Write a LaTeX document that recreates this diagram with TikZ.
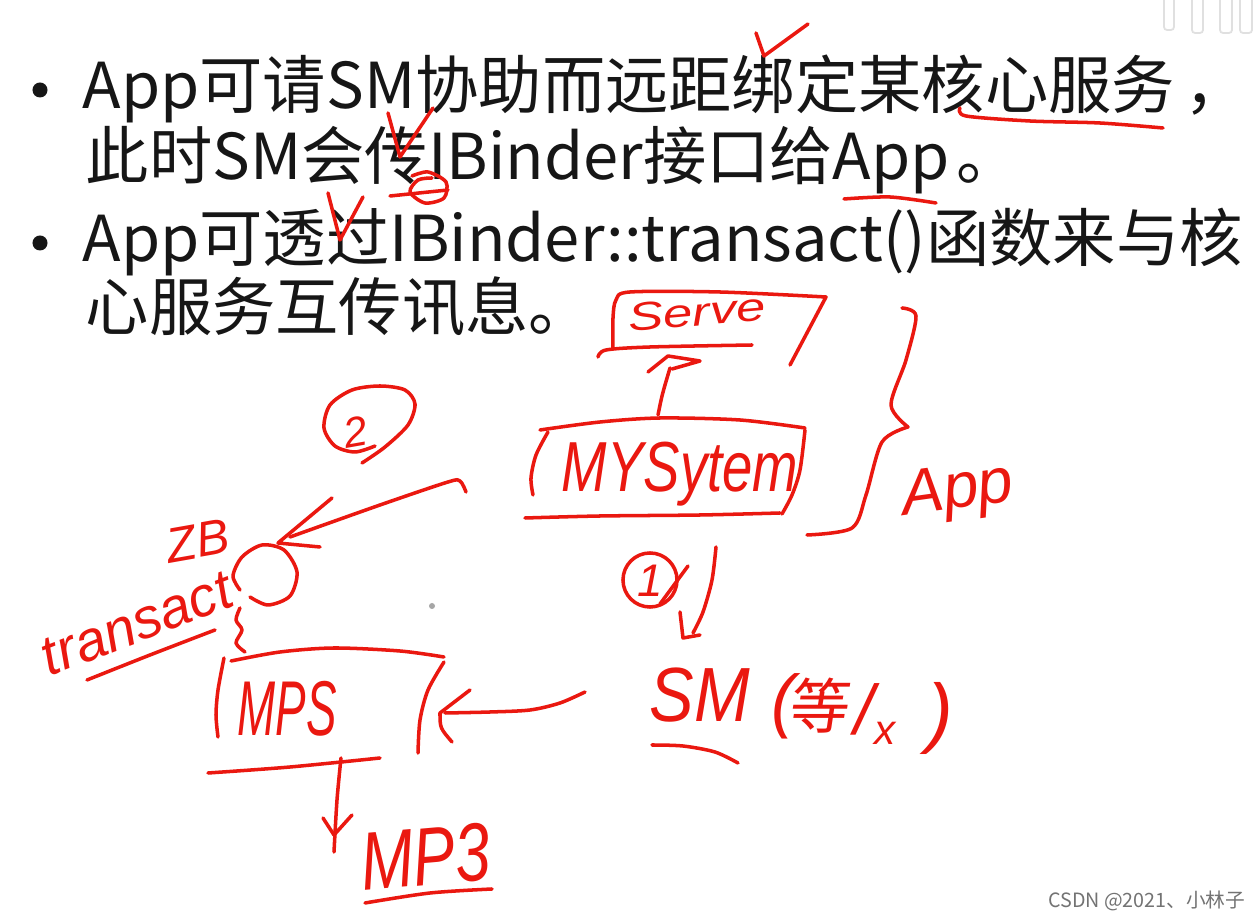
\documentclass[tikz,border=0pt]{standalone}
\usepackage{fontspec}
\setmainfont{Noto Sans CJK SC}
\newfontfamily\hand{Liberation Sans}
\newfontfamily\handcjk[FakeSlant=0.15]{Noto Sans CJK SC}
\definecolor{inkred}{RGB}{234,24,16}
\definecolor{slidetext}{RGB}{22,22,22}
\begin{document}
\begin{tikzpicture}[x=0.01cm,y=-0.01cm,
  ink/.style={draw=inkred,line width=1pt,line cap=round,line join=round},
  slide/.style={anchor=base west,inner sep=0pt,text=slidetext,font=\fontsize{18}{18}\selectfont},
  hw/.style={inner sep=0pt,text=inkred,font=\hand\itshape\fontsize{#1}{#1}\selectfont},
  hwc/.style={inner sep=0pt,text=inkred,font=\handcjk\fontsize{#1}{#1}\selectfont},
  faint/.style={draw=black!12,line width=0.5pt,rounded corners=0.03cm}
  ]
\useasboundingbox (0,0) rectangle (1260,922);
\fill[white] (0,0) rectangle (1260,922);

% faint marks top right
\draw[faint] (1164,-5) rectangle (1174,30);
\draw[faint] (1192,-5) rectangle (1203,33);
\draw[faint] (1220,-5) rectangle (1232,33);
\draw[faint] (1240,-5) rectangle (1252,33);

% slide text
\fill[slidetext] (40,90) circle[radius=0.075cm];
\fill[slidetext] (40,243) circle[radius=0.075cm];
\node[slide] (l1) at (82,109) {App可请SM协助而远距绑定某核心服务\kern0.15em，};
\node[slide] (l2) at (85,180) {此时SM会传IBinder接口给App\kern0.1em。};
\node[slide] (l3) at (82,262) {App可透过IBinder::transact()函数来与核};
\node[slide] (l4) at (85,331) {心服务互传讯息。};

% red marks on the slide text
\draw[ink] (756,33) -- (764,56) -- (808,24);
\draw[ink] plot[smooth] coordinates {(960,108) (966,116) (1030,121) (1100,123) (1163,128)};
\draw[ink] (388,113) -- (400,157) -- (433,108);
\draw[ink] plot[smooth] coordinates {(412,176) (428,172) (446,182) (444,198) (425,203) (410,192) (418,180) (432,178)};
\draw[ink] (390,196) -- (448,190);
\draw[ink] (328,193) -- (340,240) -- (363,197);
\draw[ink] plot[smooth] coordinates {(844,199) (890,197) (936,203)};

% Serve box
\draw[ink] plot[smooth] coordinates {(613,348) (613,318) (616,300) (630,292) (720,292) (826,297)} -- (790,365);
\draw[ink] plot[smooth] coordinates {(598,357) (606,350) (650,347) (752,345)};
\node[hw=15,anchor=base,rotate=5] (serve) at (698,326) {\scalebox{1}[0.75]{Serve}};

% arrow MYSystem -> Serve
\coordinate (upS) at (658,415);
\coordinate (upE) at (670,368);
\draw[ink] (upS) .. controls (662,395) .. (upE);
\draw[ink] (648,372) -- (668,356) -- (700,361) -- (672,369);

% MYSystem box
\draw[ink] plot[smooth] coordinates {(540,430) (600,422) (660,418) (740,420) (805,428)};
\draw[ink] plot[smooth] coordinates {(805,430) (800,470) (792,495) (782,514)};
\draw[ink] plot[smooth] coordinates {(525,518) (600,516) (700,515) (780,513)};
\draw[ink] plot[smooth] coordinates {(548,432) (536,455) (531,478) (533,495)};
\node[hw=15.5,anchor=base] (mys) at (680,492) {\scalebox{1}[1.3]{MYSytem}};

% brace and App
\draw[ink] plot[smooth] coordinates {(902,308) (916,316) (906,360) (891,405) (908,427)};
\draw[ink] plot[smooth] coordinates {(908,427) (882,442) (866,495) (852,528) (807,535)};
\node[hw=18,anchor=base,rotate=8] (app) at (960,508) {App};

% circled 2
\draw[ink] plot[smooth] coordinates {(375,446) (355,452) (335,446) (324,428) (330,405) (352,390) (380,386) (405,390) (415,404) (408,425) (385,447) (362,463)};
\node[hw=12,rotate=10] (two) at (355,432) {2};

% arrow to the IBinder circle
\coordinate (a2s) at (466,492);
\coordinate (a2e) at (290,537);
\draw[ink] plot[smooth] coordinates {(a2s) (460,481) (448,482) (380,505) (a2e)};
\draw[ink] (332,498) -- (278,543) -- (320,547);

% small loop
\draw[ink] plot[smooth] coordinates {(250,597) (268,605) (290,596) (297,572) (284,550) (262,545) (242,557) (233,576) (240,590)};
\node[hw=14,rotate=10] (zb) at (198,541) {ZB};
\node[hw=16,rotate=21] (trans) at (137,624) {transact};
\draw[ink] plot[smooth] coordinates {(87,680) (150,655) (215,630)};
\draw[ink] plot[smooth] coordinates {(240,608) (236,620) (242,630) (236,643) (245,652)};

% MPS box
\draw[ink] plot[smooth] coordinates {(231,661) (280,652) (334,648) (400,651) (444,657)};
\draw[ink] plot[smooth] coordinates {(224,658) (218,690) (216,715) (218,737)};
\draw[ink] plot[smooth] coordinates {(444,662) (428,690) (420,720) (418,753)};
\draw[ink] plot[smooth] coordinates {(208,773) (290,767) (380,758)};
\node[hw=13,anchor=base] (mps) at (287,736) {\scalebox{1}[1.7]{MPS}};

% arrow SM -> MPS
\coordinate (a3s) at (585,692);
\coordinate (a3e) at (445,713);
\draw[ink] plot[smooth] coordinates {(a3s) (560,703) (530,710) (490,712) (a3e)};
\draw[ink] (470,690) -- (440,713) .. controls (440,728) .. (452,742);

% arrow MPS -> MP3
\coordinate (a4s) at (341,758);
\coordinate (a4e) at (334,852);
\draw[ink] plot[smooth] coordinates {(a4s) (337,800) (a4e)};
\draw[ink] (323,818) -- (334,835) -- (352,815);
\node[hw=18,anchor=base,rotate=5] (mp3) at (428,885) {\scalebox{1}[1.3]{MP3}};
\draw[ink] plot[smooth] coordinates {(365,903) (430,893) (492,889)};

% circled 1 and bracket
\draw[ink] (650,580) circle[radius=0.27cm];
\node[hw=13] (one) at (650,581) {1};
\draw[ink] (688,566) -- (660,604);
\draw[ink] plot[smooth] coordinates {(716,547) (712,580) (703,612) (693,633)};
\draw[ink] (680,612) -- (683,638) -- (700,635);

% SM label
\node[hw=19,anchor=base] (sm) at (700,722) {\scalebox{1}[1.15]{SM}};
\draw[ink] plot[smooth] coordinates {(652,745) (683,746) (715,752) (738,763)};
\node[hw=20] (lp) at (783,706) {(};
\node[hwc=17] (deng) at (817,706) {等};
\node[hw=20,anchor=base west] (slx) at (854,735) {/\raisebox{-0.25ex}{\fontsize{12}{12}\selectfont x}};
\node[hw=22] (rp) at (940,718) {)};

% cursor dot
\fill[black!35] (432,606) circle[radius=0.03cm];

% watermark
\node[anchor=base east,inner sep=0pt,text=black!55,font=\fontsize{5.6}{5.6}\selectfont] (wm) at (1246,908) {CSDN @2021、小林子};
\end{tikzpicture}
\end{document}
